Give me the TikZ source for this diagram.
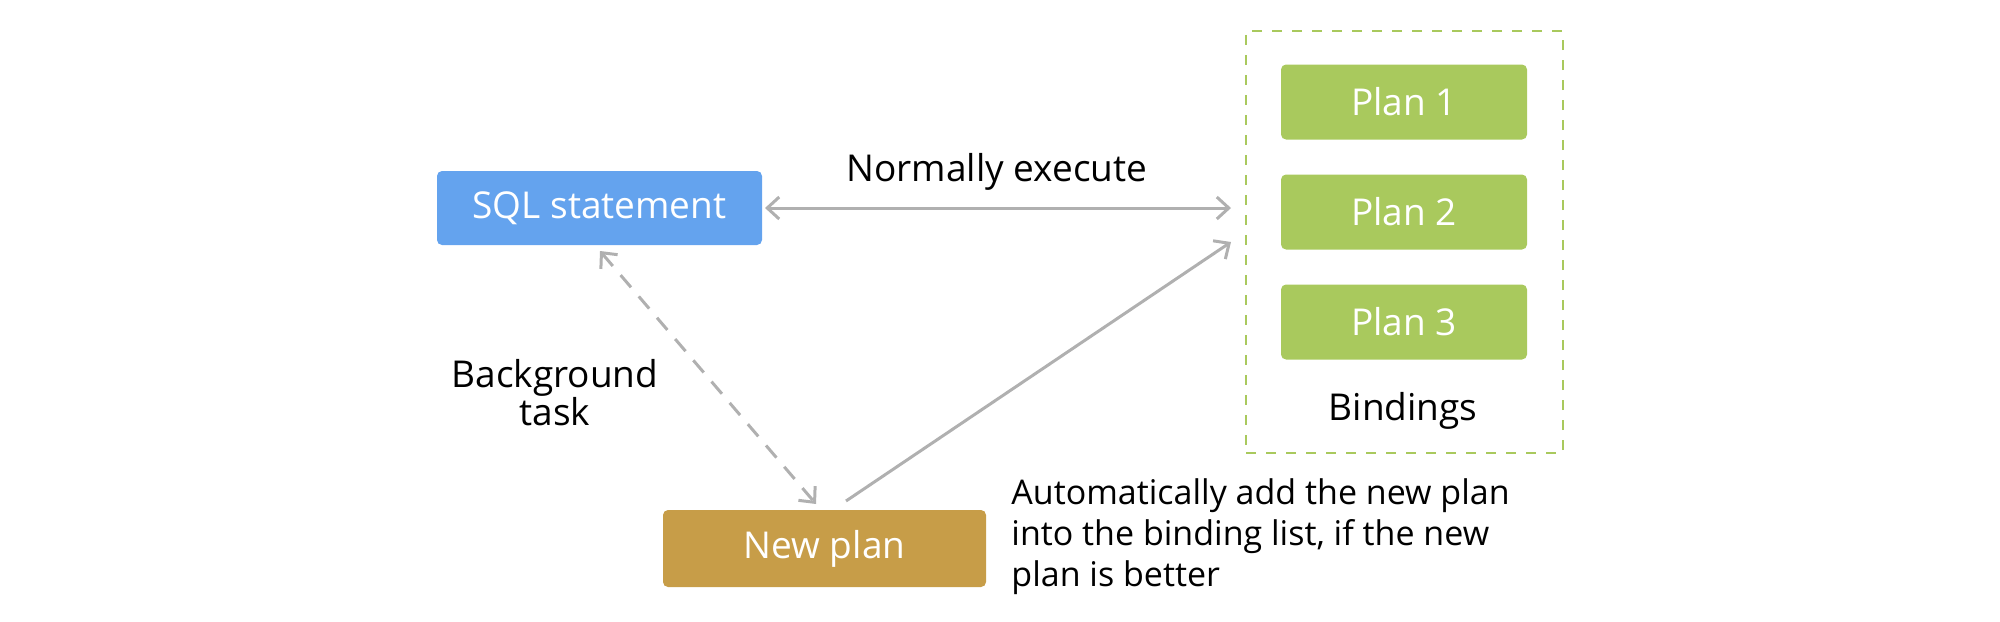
\documentclass[tikz,border=0pt]{standalone}
\usepackage{fontspec}
\setmainfont{Open Sans}
\usetikzlibrary{arrows.meta}
\definecolor{sqlblue}{HTML}{64A3EE}
\definecolor{plangreen}{HTML}{A9C95D}
\definecolor{newgold}{HTML}{C79D48}
\definecolor{arrgray}{HTML}{B0B0B0}
\begin{document}
\begin{tikzpicture}[x=0.5pt,y=-0.5pt,
  box/.style={rounded corners=2.5pt, inner sep=0pt, text=white, font=\fontsize{18.5}{22}\selectfont},
  lbl/.style={font=\fontsize{18.5}{19}\selectfont, text=black, inner sep=0pt},
  conn/.style={draw=arrgray, line width=1.5pt, arrows={-Straight Barb[length=6pt,width=11pt,line width=1.5pt]}},
]
\useasboundingbox (0,0) rectangle (2000,621);
\node[box, fill=sqlblue, minimum width=162.5pt, minimum height=37pt] (sql) at (599.5,208) {SQL statement};
\node[draw=plangreen, dashed, dash pattern=on 5pt off 5pt, line width=1.2pt, minimum width=158.5pt, minimum height=211pt, inner sep=0pt] (bind) at (1404.5,242) {};
\node[box, fill=plangreen, minimum width=123pt, minimum height=37.5pt] (p1) at (1404,102) {Plan 1};
\node[box, fill=plangreen, minimum width=123pt, minimum height=37.5pt] (p2) at (1404,212) {Plan 2};
\node[box, fill=plangreen, minimum width=123pt, minimum height=37.5pt] (p3) at (1404,322) {Plan 3};
\node[lbl] (bl) at (1403,411) {Bindings};
\node[box, fill=newgold, minimum width=161.5pt, minimum height=38.5pt] (np) at (824.5,548.5) {New plan};
\node[lbl] (ne) at (997,172) {Normally execute};
\node[lbl, align=center] (bt) at (555,393) {Background\\task};
\node[lbl, font=\fontsize{17}{20.5}\selectfont, align=left, anchor=north west] (auto) at (1011,478) {Automatically add the new plan\\into the binding list, if the new\\plan is better};
\coordinate (in1) at (1231,208);
\coordinate (in2) at (1231,242);
\coordinate (sqlb) at (600,251);
\coordinate (npt) at (816,504);
\coordinate (npo) at (846,501);
\draw[conn, arrows={Straight Barb[length=6pt,width=11pt,line width=1.5pt]-Straight Barb[length=6pt,width=11pt,line width=1.5pt]}] (765,208) -- (in1);
\draw[conn] (npo) -- (in2);
\draw[conn, dashed, dash pattern=on 8pt off 6pt, arrows={Straight Barb[length=6pt,width=11pt,line width=1.5pt]-Straight Barb[length=6pt,width=11pt,line width=1.5pt]}] (sqlb) -- (npt);
\end{tikzpicture}
\end{document}
